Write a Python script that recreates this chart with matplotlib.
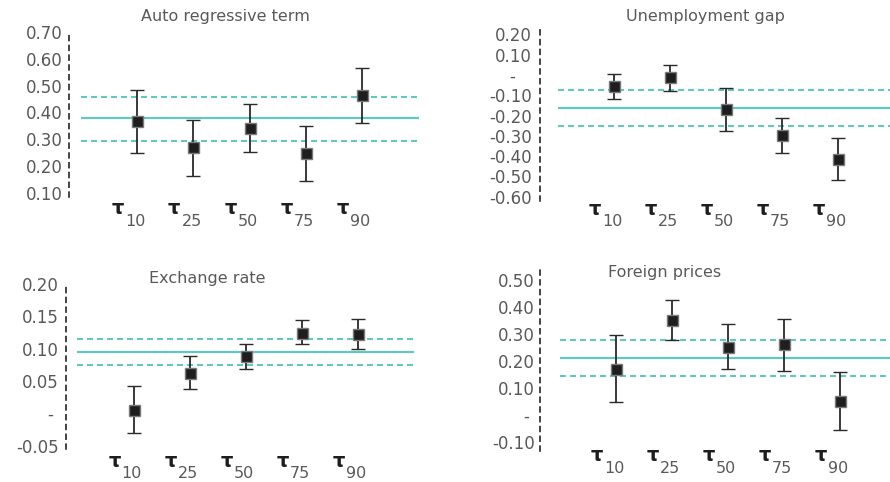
import matplotlib
matplotlib.use("Agg")
import matplotlib.pyplot as plt
import numpy as np

# ---------------- data ----------------
quantiles = ["10", "25", "50", "75", "90"]

titles = ["Auto regressive term", "Unemployment gap", "Exchange rate", "Foreign prices"]

# Auto regressive term
ar_est = [0.367, 0.270, 0.341, 0.248, 0.464]
ar_lo = [0.249, 0.164, 0.253, 0.145, 0.362]
ar_hi = [0.485, 0.373, 0.432, 0.350, 0.566]
ar_ols = [0.380, 0.294, 0.458]          # mean, lower band, upper band
ar_ticks = [0.10, 0.20, 0.30, 0.40, 0.50, 0.60, 0.70]
ar_ticklabels = ["0.10", "0.20", "0.30", "0.40", "0.50", "0.60", "0.70"]

# Unemployment gap
ug_est = [-0.054, -0.011, -0.168, -0.298, -0.415]
ug_lo = [-0.117, -0.077, -0.275, -0.386, -0.519]
ug_hi = [0.007, 0.051, -0.064, -0.211, -0.310]
ug_ols = [-0.161, -0.250, -0.072]
ug_ticks = [-0.60, -0.50, -0.40, -0.30, -0.20, -0.10, 0.0, 0.10, 0.20]
ug_ticklabels = ["-0.60", "-0.50", "-0.40", "-0.30", "-0.20", "-0.10", "-   ", "0.10", "0.20"]

# Exchange rate
er_est = [0.006, 0.063, 0.088, 0.125, 0.123]
er_lo = [-0.030, 0.037, 0.068, 0.107, 0.099]
er_hi = [0.043, 0.088, 0.107, 0.144, 0.146]
er_ols = [0.0956, 0.075, 0.1156]
er_ticks = [-0.05, 0.0, 0.05, 0.10, 0.15, 0.20]
er_ticklabels = ["-0.05", "- ", "0.05", "0.10", "0.15", "0.20"]

# Foreign prices
fp_est = [0.170, 0.351, 0.251, 0.260, 0.051]
fp_lo = [0.046, 0.278, 0.168, 0.162, -0.058]
fp_hi = [0.295, 0.425, 0.337, 0.354, 0.157]
fp_ols = [0.210, 0.142, 0.278]
fp_ticks = [-0.10, 0.0, 0.10, 0.20, 0.30, 0.40, 0.50]
fp_ticklabels = ["-0.10", "- ", "0.10", "0.20", "0.30", "0.40", "0.50"]

# ---------------- layout / style ----------------
W, H = 890, 482
TEAL = "#62c9c0"
TXT = "#595959"
PX = 72 / 100.0  # points per pixel

fig = plt.figure(figsize=(W / 100, H / 100), dpi=100)
plt.rcParams["font.family"] = ["DejaVu Sans"]

panels = [
    dict(box=(69, 32, 418.6, 197), xlim=(-0.21, 6.0), ylim=(0.085, 0.70),
         est=ar_est, lo=ar_lo, hi=ar_hi, ols=ar_ols, ticks=ar_ticks, tl=ar_ticklabels,
         pad=6, title=(225, 17), tau_y=(214, 226)),
    dict(box=(540, 29.3, 890, 200.7), xlim=(-0.32, 5.93), ylim=(-0.62, 0.225),
         est=ug_est, lo=ug_lo, hi=ug_hi, ols=ug_ols, ticks=ug_ticks, tl=ug_ticklabels,
         pad=8, title=(705, 17), tau_y=(215, 226)),
    dict(box=(65.7, 284, 414.1, 449), xlim=(-0.21, 6.0), ylim=(-0.055, 0.20),
         est=er_est, lo=er_lo, hi=er_hi, ols=er_ols, ticks=er_ticks, tl=er_ticklabels,
         pad=7, title=(207, 279), tau_y=(467, 478)),
    dict(box=(540, 269, 890.6, 451), xlim=(-0.36, 5.9), ylim=(-0.135, 0.54),
         est=fp_est, lo=fp_lo, hi=fp_hi, ols=fp_ols, ticks=fp_ticks, tl=fp_ticklabels,
         pad=5, title=(665, 273), tau_y=(461, 473)),
]

x = np.arange(1, len(quantiles) + 1)

for p, title in zip(panels, titles):
    l, t, r, b = p["box"]
    ax = fig.add_axes([l / W, 1 - b / H, (r - l) / W, (b - t) / H])
    ax.set_xlim(*p["xlim"])
    ax.set_ylim(*p["ylim"])
    for s in ["top", "right", "bottom"]:
        ax.spines[s].set_visible(False)
    ax.spines["left"].set_linestyle((0, (3.2, 3.2)))
    ax.spines["left"].set_linewidth(1.1)
    ax.spines["left"].set_color("#111111")
    ax.set_xticks([])
    ax.set_yticks(p["ticks"])
    ax.set_yticklabels(p["tl"])
    ax.tick_params(axis="y", length=0, pad=p["pad"] * PX, labelsize=12, labelcolor=TXT)
    ax.patch.set_alpha(0)

    mean, blo, bhi = p["ols"]
    ax.hlines(mean, 0, 6, color=TEAL, lw=1.6, zorder=1)
    ax.hlines([blo, bhi], 0, 6, color=TEAL, lw=1.5, linestyles=[(0, (2.9, 1.9))], zorder=1)

    est = np.array(p["est"])
    lo = np.array(p["lo"])
    hi = np.array(p["hi"])
    ax.errorbar(x, est, yerr=[est - lo, hi - est], fmt="s", color="#222222",
                ecolor="#2a2a2a", elinewidth=1.3, capsize=7 * PX, capthick=3.5 * PX,
                markersize=11 * PX, markerfacecolor="#1e1e1e", markeredgecolor="#7a7a7a",
                markeredgewidth=1.0, zorder=3)

    fig.text(p["title"][0] / W, 1 - p["title"][1] / H, title, ha="center", va="center",
             fontsize=11.5, color=TXT)

    ty, sy = p["tau_y"]
    for xi, q in zip(x, quantiles):
        ax.annotate("τ", xy=(xi, H - ty), xycoords=("data", "figure pixels"),
                    xytext=(-13, 0), textcoords="offset pixels", ha="right", va="baseline",
                    fontsize=14, fontweight="bold", color="#1e1e1e", annotation_clip=False)
        ax.annotate(q, xy=(xi, H - sy), xycoords=("data", "figure pixels"),
                    xytext=(-12, 0), textcoords="offset pixels", ha="left", va="baseline",
                    fontsize=11.5, color=TXT, annotation_clip=False)

fig.savefig("out.png", dpi=100)
